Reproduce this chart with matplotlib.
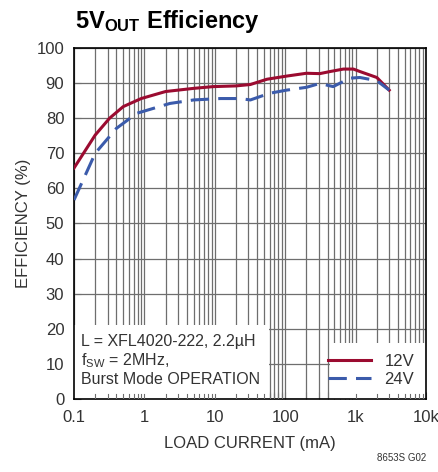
import matplotlib
matplotlib.use("Agg")
import matplotlib.pyplot as plt
from matplotlib.patches import Rectangle
from matplotlib.ticker import LogLocator, FixedLocator, NullFormatter

plt.rcParams["font.family"] = ["Liberation Sans", "DejaVu Sans"]

# load current (mA) and efficiency (%)
i_12v = [0.1, 0.2, 0.32, 0.5, 0.9, 2.0, 5.0, 9.5, 20, 32, 55, 105, 200, 310, 435, 670, 930, 1150, 2000, 3000]
eff_12v = [65.8, 75.2, 80.0, 83.3, 85.6, 87.6, 88.5, 89.0, 89.2, 89.6, 91.1, 92.0, 92.8, 92.7, 93.3, 94.0, 94.0, 93.3, 91.6, 88.0]

i_24v = [0.1, 0.2, 0.4, 0.78, 2.3, 5.0, 12, 23, 32, 60, 105, 200, 310, 480, 830, 1150, 2000, 3000]
eff_24v = [56.7, 70.0, 77.1, 81.4, 84.2, 85.2, 85.6, 85.6, 85.2, 87.1, 88.0, 88.8, 89.9, 89.0, 91.4, 91.6, 90.7, 88.0]

x_ticks = [0.1, 1, 10, 100, 1000, 10000]
x_labels = ["0.1", "1", "10", "100", "1k", "10k"]
y_ticks = list(range(0, 101, 10))

red = "#9b0b30"
blue = "#3b5bab"
grid = "#6e6e6e"
txt = "#333333"

fig = plt.figure(figsize=(4.39, 4.72), dpi=100)
ax = fig.add_axes([0.1686, 0.1547, 0.8018, 0.7436])

ax.set_xscale("log")
ax.set_xlim(0.1, 10000)
ax.set_ylim(0, 100)

ax.xaxis.set_major_locator(FixedLocator(x_ticks))
ax.xaxis.set_minor_locator(LogLocator(base=10, subs=range(2, 10)))
ax.xaxis.set_minor_formatter(NullFormatter())
ax.set_xticklabels(x_labels)
ax.set_yticks(y_ticks)

ax.grid(True, which="both", axis="x", color=grid, linewidth=0.9)
ax.grid(True, which="major", axis="y", color=grid, linewidth=0.9)
ax.tick_params(which="both", direction="in", length=5, width=0.8, color=grid,
               labelsize=12, labelcolor=txt)
ax.tick_params(axis="x", pad=8)
ax.tick_params(axis="y", pad=7)
for s in ax.spines.values():
    s.set_color("black")
    s.set_linewidth(1.2)

ax.plot(i_12v, eff_12v, color=red, linewidth=2.2, label="12V", zorder=4)
ax.plot(i_24v, eff_24v, color=blue, linewidth=2.2, dashes=(6, 3), label="24V", zorder=4)

# white boxes for the note and the legend
ax.add_patch(Rectangle((0, 0), 0.553, 0.21, transform=ax.transAxes,
                       facecolor="white", edgecolor="none", zorder=2))
ax.add_patch(Rectangle((0.727, 0), 0.273, 0.16, transform=ax.transAxes,
                       facecolor="white", edgecolor="none", zorder=2))
# ticks redrawn over the boxes
for xv in [0.2, 0.3, 0.4, 0.5, 0.6, 0.7, 0.8, 0.9, 1, 2, 3, 4, 5, 6, 7, 8, 9, 10,
           20, 30, 40, 50, 60, 70, 80, 90, 1000, 2000, 3000, 4000, 5000, 6000, 7000, 8000, 9000]:
    ax.plot([xv, xv], [0, 1.4], color=grid, linewidth=0.8, zorder=3)

ax.text(0.02, 0.185, "L = XFL4020-222, 2.2µH\n$\\mathregular{f_{SW}}$ = 2MHz,\nBurst Mode OPERATION",
        transform=ax.transAxes, fontsize=11.5, color=txt, va="top", ha="left",
        linespacing=1.15, zorder=5)

leg = ax.legend(loc="lower right", frameon=False, fontsize=12, handlelength=2.6,
                handletextpad=0.8, labelspacing=0.2, borderaxespad=0.3)
for t in leg.get_texts():
    t.set_color(txt)
leg.set_zorder(5)

ax.set_xlabel("LOAD CURRENT (mA)", fontsize=12, color=txt, labelpad=8)
ax.set_ylabel("EFFICIENCY (%)", fontsize=12, color=txt, labelpad=4)

fig.text(0.171, 0.955, "5V$\\mathregular{_{OUT}}$ Efficiency", fontsize=17,
         fontweight="bold", color="black", va="center", ha="left")
fig.text(0.97, 0.02, "8653S G02", fontsize=7, color=txt, ha="right", va="bottom")

fig.savefig("out.png", dpi=100)
